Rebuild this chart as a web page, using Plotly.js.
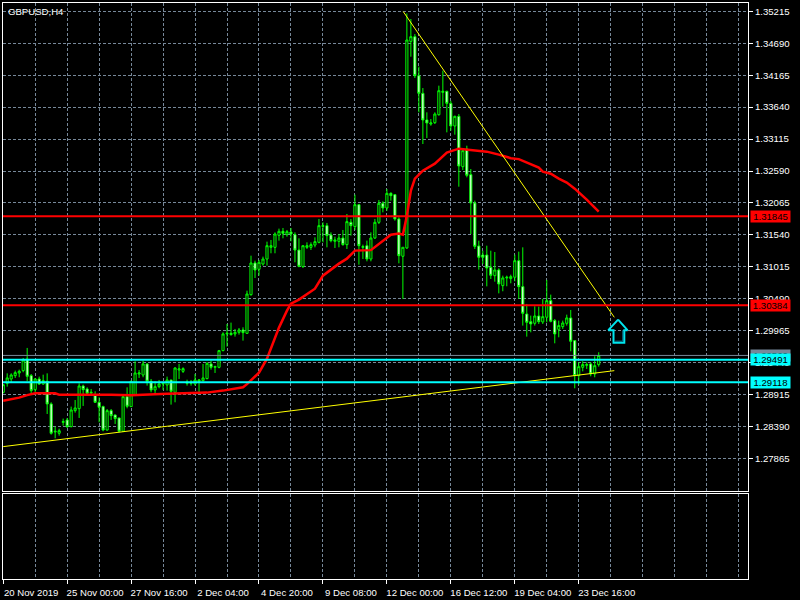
<!DOCTYPE html>
<html><head><meta charset="utf-8">
<script src="https://cdn.plot.ly/plotly-3.0.1.min.js"></script>
<style>html,body{margin:0;padding:0;background:#000}</style></head>
<body><div id="chart" style="width:800px;height:600px"></div>
<script>
const opens=[
1.28954,1.29102,1.29173,1.29228,1.29272,1.29310,1.29502,1.29228,1.28998,1.29173,
1.29091,1.29135,1.28763,1.28303,1.28281,1.28461,1.28500,1.28390,1.28653,1.28686,
1.29058,1.29009,1.28943,1.28910,1.28790,1.28719,1.28335,1.28653,1.28582,1.28533,
1.28314,1.28883,1.28719,1.28916,1.29255,1.29239,1.29420,1.29135,1.28993,1.29047,
1.29091,1.29075,1.29157,1.28954,1.29321,1.29299,1.29102,1.29102,1.29091,1.29135,
1.29146,1.29179,1.29420,1.29365,1.29365,1.29639,1.29913,1.29924,1.29913,1.29940,
1.29978,1.29923,1.30558,1.31079,1.30975,1.31062,1.31144,1.31336,1.31336,1.31533,
1.31599,1.31544,1.31588,1.31544,1.31292,1.31019,1.31336,1.31336,1.31374,1.31418,
1.31681,1.31692,1.31539,1.31435,1.31435,1.31489,1.31380,1.31747,1.31676,1.32037,
1.31336,1.31363,1.31144,1.31489,1.31747,1.32059,1.31982,1.32223,1.32201,1.31802,
1.31189,1.31326,1.34720,1.34797,1.34156,1.33866,1.33428,1.33362,1.33384,1.33515,
1.33882,1.33899,1.33701,1.33329,1.33488,1.32661,1.32951,1.32530,1.32064,1.31358,
1.31210,1.31210,1.31007,1.30870,1.30964,1.30707,1.30833,1.30822,1.30844,1.31117,
1.30690,1.30241,1.30115,1.30088,1.30208,1.30110,1.30187,1.30460,1.30132,1.29989,
1.30033,1.30088,1.30176,1.29803,1.29228,1.29365,1.29398,1.29420,1.29256,1.29409];
const highs=[
1.29091,1.29266,1.29266,1.29310,1.29327,1.29518,1.29683,1.29255,1.29190,1.29212,
1.29244,1.29266,1.28790,1.28390,1.28357,1.28522,1.28533,1.28719,1.28828,1.29102,
1.29080,1.29036,1.29009,1.28971,1.28872,1.28735,1.28680,1.28680,1.28587,1.28533,
1.28883,1.29036,1.29146,1.29463,1.29321,1.29474,1.29431,1.29173,1.29135,1.29157,
1.29118,1.29212,1.29157,1.29365,1.29420,1.29365,1.29162,1.29157,1.29256,1.29173,
1.29420,1.29447,1.29475,1.29392,1.29650,1.29940,1.30077,1.30099,1.29995,1.30011,
1.30022,1.30624,1.31199,1.31117,1.31128,1.31183,1.31429,1.31457,1.31582,1.31643,
1.31654,1.31621,1.31654,1.31582,1.31484,1.31363,1.31418,1.31418,1.31500,1.31802,
1.31747,1.31736,1.31582,1.31511,1.31555,1.31621,1.31884,1.31802,1.32201,1.32048,
1.31380,1.31446,1.31582,1.31802,1.32114,1.32092,1.32294,1.32240,1.32212,1.31829,
1.31337,1.35180,1.35087,1.34840,1.34304,1.33953,1.33554,1.33444,1.33554,1.33992,
1.34238,1.33909,1.33745,1.33499,1.33526,1.32935,1.33006,1.32623,1.32103,1.31445,
1.31281,1.31363,1.31281,1.31259,1.30991,1.30871,1.30871,1.30887,1.31216,1.31265,
1.31336,1.30406,1.30214,1.30367,1.30362,1.30488,1.30800,1.30559,1.30159,1.30132,
1.30132,1.30230,1.30307,1.29814,1.29447,1.29464,1.29447,1.29447,1.29546,1.29612];
const lows=[
1.28938,1.29047,1.29118,1.29190,1.29201,1.29283,1.29135,1.28927,1.28954,1.29075,
1.29075,1.28598,1.28259,1.28199,1.28242,1.28407,1.28368,1.28379,1.28620,1.28533,
1.28730,1.28927,1.28916,1.28779,1.28461,1.28314,1.28324,1.28500,1.28434,1.28297,
1.28303,1.28691,1.28719,1.28899,1.29190,1.29201,1.29064,1.28954,1.28927,1.29020,
1.28993,1.28982,1.28752,1.28790,1.29173,1.29272,1.29064,1.29064,1.29064,1.28938,
1.29135,1.29168,1.29327,1.29272,1.29349,1.29628,1.29705,1.29885,1.29869,1.29902,
1.29803,1.29912,1.30542,1.30832,1.30871,1.31035,1.31035,1.31238,1.31238,1.31446,
1.31484,1.31511,1.31435,1.31090,1.31008,1.30997,1.31309,1.31292,1.31336,1.31402,
1.31418,1.31336,1.31418,1.31325,1.31336,1.31363,1.31309,1.31528,1.31621,1.31051,
1.31144,1.31106,1.31106,1.31473,1.31719,1.31911,1.31938,1.32103,1.31774,1.31073,
1.30488,1.31309,1.34468,1.34118,1.33554,1.33033,1.33132,1.33334,1.33362,1.33499,
1.33647,1.33225,1.33252,1.33187,1.32332,1.32606,1.32486,1.31555,1.31309,1.30969,
1.31062,1.30695,1.30816,1.30772,1.30580,1.30614,1.30696,1.30745,1.30778,1.30488,
1.30050,1.29869,1.29940,1.30050,1.30077,1.30077,1.30104,1.30104,1.29759,1.29858,
1.29995,1.30050,1.29628,1.29020,1.29080,1.29299,1.29338,1.29217,1.29201,1.29376];
const closes=[
1.29080,1.29190,1.29239,1.29277,1.29299,1.29485,1.29217,1.28982,1.29173,1.29091,
1.29146,1.28763,1.28281,1.28314,1.28324,1.28472,1.28390,1.28664,1.28697,1.29058,
1.28998,1.28938,1.28954,1.28790,1.28708,1.28335,1.28653,1.28571,1.28522,1.28314,
1.28883,1.28724,1.29135,1.29272,1.29272,1.29420,1.29135,1.28993,1.29047,1.29091,
1.29102,1.29157,1.28971,1.29354,1.29338,1.29343,1.29118,1.29118,1.29157,1.29157,
1.29190,1.29431,1.29365,1.29376,1.29639,1.29913,1.29924,1.29902,1.29940,1.29978,
1.29935,1.30569,1.31079,1.30964,1.31090,1.31144,1.31363,1.31363,1.31555,1.31599,
1.31566,1.31593,1.31555,1.31292,1.31024,1.31363,1.31363,1.31380,1.31429,1.31692,
1.31692,1.31528,1.31446,1.31457,1.31489,1.31380,1.31758,1.31692,1.32037,1.31363,
1.31347,1.31144,1.31489,1.31747,1.32059,1.31982,1.32223,1.32185,1.31802,1.31199,
1.31337,1.34742,1.34797,1.34156,1.33866,1.33428,1.33378,1.33378,1.33526,1.33909,
1.33899,1.33701,1.33329,1.33488,1.32672,1.32924,1.32519,1.32064,1.31352,1.31172,
1.31172,1.30996,1.30876,1.30964,1.30734,1.30833,1.30844,1.30855,1.31117,1.30690,
1.30252,1.30104,1.30077,1.30208,1.30115,1.30197,1.30460,1.30121,1.29913,1.30050,
1.30093,1.30176,1.29792,1.29228,1.29376,1.29409,1.29409,1.29256,1.29392,1.29557];

const maBars=[0,3,4,6,8,13,14,27,32,41,47,51,55,60,61,62,64,66,67,68,69,71,72,74,78,80,84,86,88,92,94,97,99,100,101,102,103,105,108,111,114,117,121,124,127,129,134,135,137,139,141,143,145,146,149];
const maValues=[1.28817,1.28850,1.28867,1.28908,1.28937,1.28937,1.28916,1.28916,1.28904,1.28932,1.28937,1.28949,1.28982,1.29036,1.29088,1.29146,1.29277,1.29507,1.29672,1.29869,1.30017,1.30296,1.30411,1.30477,1.30657,1.30871,1.31068,1.31150,1.31282,1.31290,1.31397,1.31544,1.31561,1.31544,1.31856,1.32267,1.32464,1.32596,1.32711,1.32891,1.32957,1.32941,1.32908,1.32859,1.32801,1.32785,1.32645,1.32579,1.32546,1.32464,1.32399,1.32300,1.32185,1.32119,1.31922];

const supportBars=[0,152.9], supportPrices=[1.28062,1.29310];
const resistBars=[100.1,152.9], resistPrices=[1.35208,1.30186];
const arrowBars=[153.85,156.2,155.4,155.4,152.7,152.7,151.4,153.85];
const arrowPrices=[1.30148,1.29975,1.29975,1.29770,1.29770,1.29975,1.29975,1.30148];
const arrowInnerBars=[155.0,155.0,153.1];
const arrowInnerPrices=[1.29975,1.29795,1.29795];

const levelPrices=[1.31845,1.30384,1.29560,1.29491,1.29118];
const levelColors=['#ff0000','#ff0000','#778899','#00ffff','#00ffff'];
const levelWidths=[2,2,1,2,2];
const levelLabels=['1.31845','1.30384','1.29560','1.29491','1.29118'];

const priceTicks=[1.35215,1.34690,1.34165,1.33640,1.33115,1.32590,1.32065,1.31540,1.31015,1.30490,1.29965,1.29440,1.28915,1.28390,1.27865];
const priceLabels=['1.35215','1.34690','1.34165','1.33640','1.33115','1.32590','1.32065','1.31540','1.31015','1.30490','1.29965','1.29440','1.28915','1.28390','1.27865'];
const timeTicks=[0,16,32,48,64,80,96,112,128,144];
const timeLabels=['20 Nov 2019','25 Nov 00:00','27 Nov 16:00','2 Dec 04:00','4 Dec 20:00','9 Dec 08:00','12 Dec 00:00','16 Dec 12:00','19 Dec 04:00','23 Dec 16:00'];

const barIndex=opens.map((_,i)=>i);
const GRID='#778899', FG='#ffffff';
const FONT='"Liberation Sans",sans-serif';
const FS=9.6;
const xRange=[-0.05,186.35];

const traces=[
 {type:'candlestick',x:barIndex,open:opens,high:highs,low:lows,close:closes,whiskerwidth:0,
  increasing:{line:{color:'#00ff00',width:1},fillcolor:'#000000'},
  decreasing:{line:{color:'#00ff00',width:1},fillcolor:'#ffffff'},xaxis:'x',yaxis:'y',showlegend:false},
 {type:'scatter',mode:'lines',x:maBars,y:maValues,line:{color:'#ff0000',width:2.5},xaxis:'x',yaxis:'y',showlegend:false},
 {type:'scatter',mode:'lines',x:supportBars,y:supportPrices,line:{color:'#ffff00',width:1},xaxis:'x',yaxis:'y',showlegend:false},
 {type:'scatter',mode:'lines',x:resistBars,y:resistPrices,line:{color:'#ffff00',width:1},xaxis:'x',yaxis:'y',showlegend:false},
 {type:'scatter',mode:'lines',x:arrowInnerBars,y:arrowInnerPrices,line:{color:'#0a6c8c',width:1},xaxis:'x',yaxis:'y',showlegend:false},
 {type:'scatter',mode:'lines',x:arrowBars,y:arrowPrices,line:{color:'#00e5ee',width:2},xaxis:'x',yaxis:'y',showlegend:false},
 {type:'scatter',mode:'none',x:[0],y:[0],xaxis:'x2',yaxis:'y2',showlegend:false,hoverinfo:'skip'}
];

const shapes=levelPrices.map((p,i)=>({type:'line',xref:'x domain',x0:0,x1:1,yref:'y',y0:p,y1:p,line:{color:levelColors[i],width:levelWidths[i]}}));

const annotations=levelPrices.map((p,i)=>({xref:'paper',x:1.0027,xanchor:'left',yref:'y',y:p,yanchor:'middle',
 text:levelLabels[i],showarrow:false,bgcolor:levelColors[i],width:39,height:11,borderpad:0,align:'center',
 font:{family:FONT,size:FS,color:'#000000'}}));
annotations.push({xref:'paper',yref:'paper',x:0.004,y:0.9975,xanchor:'left',yanchor:'top',text:'GBPUSD,H4',showarrow:false,
 font:{family:FONT,size:FS,color:FG},borderpad:1});

const layout={
 width:800,height:600,paper_bgcolor:'#000',plot_bgcolor:'#000',
 margin:{l:3,r:52,t:3,b:21,pad:0},showlegend:false,boxgap:0.25,dragmode:false,
 xaxis:{domain:[0,1],anchor:'y',range:xRange,showticklabels:false,ticks:'',tickmode:'array',tickvals:timeTicks,
  showgrid:true,gridcolor:GRID,griddash:'3px,2px',gridwidth:1,zeroline:false,rangeslider:{visible:false},
  showline:true,linecolor:FG,linewidth:1,mirror:true,
  minor:{tick0:0,dtick:8,showgrid:true,gridcolor:GRID,griddash:'3px,2px',gridwidth:1,ticks:''}},
 yaxis:{domain:[0.1528,1],anchor:'x',side:'right',range:[1.27333,1.35350],tickmode:'array',tickvals:priceTicks,ticktext:priceLabels,
  ticks:'outside',ticklen:4,tickcolor:FG,tickfont:{family:FONT,size:FS,color:FG},showgrid:true,gridcolor:GRID,griddash:'3px,2px',gridwidth:1,
  zeroline:false,showline:true,linecolor:FG,linewidth:1,mirror:true,automargin:false},
 xaxis2:{domain:[0,1],anchor:'y2',range:xRange,tickmode:'array',tickvals:timeTicks,ticktext:timeLabels,ticks:'outside',ticklen:4,tickcolor:FG,
  ticklabelshift:28,tickangle:0,ticklabeloverflow:'allow',tickfont:{family:FONT,size:FS,color:FG},showgrid:true,gridcolor:GRID,griddash:'3px,2px',gridwidth:1,zeroline:false,
  showline:true,linecolor:FG,linewidth:1,mirror:true,automargin:false,
  minor:{tick0:0,dtick:8,showgrid:true,gridcolor:GRID,griddash:'3px,2px',gridwidth:1,ticks:''}},
 yaxis2:{domain:[0,0.1476],anchor:'x2',side:'right',range:[0,1],showticklabels:false,ticks:'',showgrid:false,zeroline:false,
  showline:true,linecolor:FG,linewidth:1,mirror:true,automargin:false},
 shapes:shapes,annotations:annotations
};
Plotly.newPlot('chart',traces,layout,{displayModeBar:false,responsive:false,staticPlot:true});
</script></body></html>
